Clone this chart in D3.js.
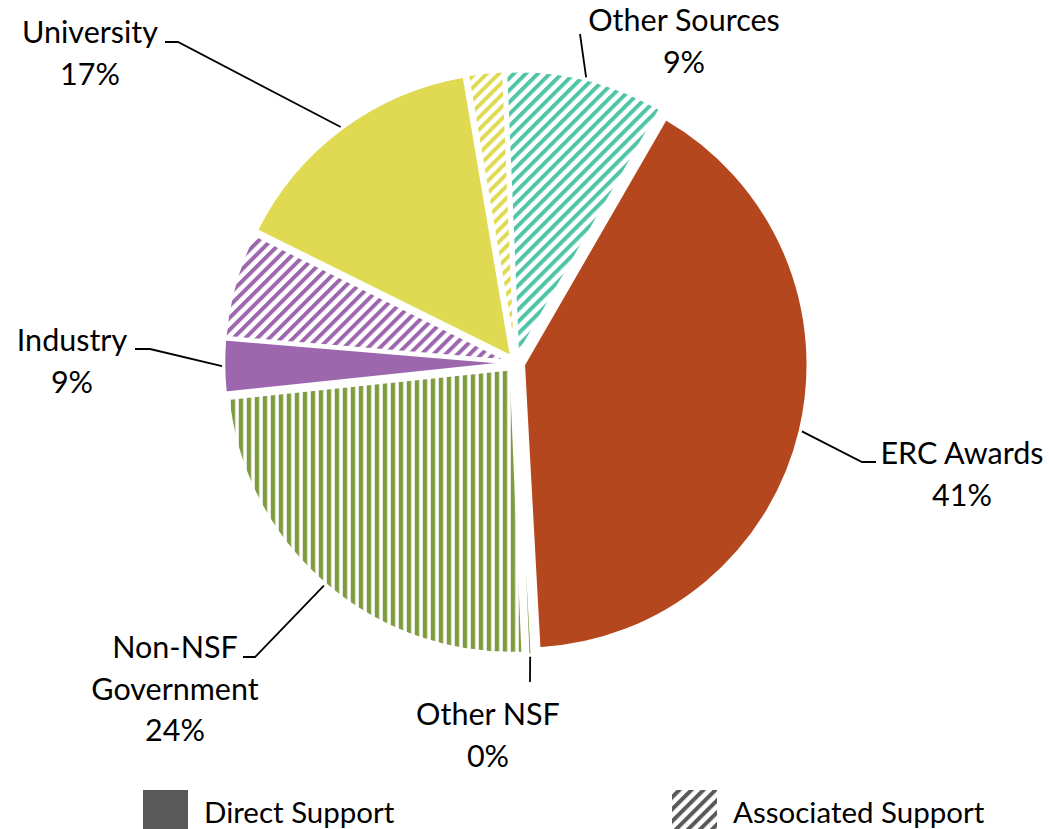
<!DOCTYPE html>
<html>
<head>
<meta charset="utf-8">
<script src="https://cdn.jsdelivr.net/npm/d3@7"></script>
<style>
  html, body { margin: 0; padding: 0; background: #fff; }
  svg { display: block; }
  text { font-family: Lato, "Open Sans", sans-serif; fill: #000; }
</style>
</head>
<body>
<svg id="chart" width="1049" height="829"></svg>
<script>
// Funding sources (percent of total support)
const categories = ["ERC Awards", "Other NSF", "Non-NSF Government", "Industry", "University", "Other Sources"];
const directSupport = [40.8, 0.2, 0, 3, 15, 0];
const associatedSupport = [0, 0, 24, 6, 2, 9];
const categoryColors = ["#B5471F", "#7E9B3E", "#7E9B3E", "#9D67AD", "#E0DA52", "#4FC4A6"];
const supportTypes = ["Direct Support", "Associated Support"];

// Label placement (label text centre, first baseline, and leader elbow)
const labelLayout = [
  { x: 962, y: 464, anchor: [876, 462], elbow: [862, 462], lines: ["ERC Awards"] },
  { x: 488, y: 725, anchor: [530, 682], elbow: [530, 682], lines: ["Other NSF"] },
  { x: 175, y: 658, anchor: [243, 657], elbow: [255, 657], lines: ["Non-NSF", "Government"] },
  { x: 72,  y: 351, anchor: [135, 349], elbow: [150, 349], lines: ["Industry"] },
  { x: 90,  y: 43,  anchor: [165, 42],  elbow: [178, 42],  lines: ["University"] },
  { x: 684, y: 31,  anchor: [580, 34],  elbow: [580, 34],  lines: ["Other Sources"] }
];

const svg = d3.select("#chart");
const cx = 516, cy = 363, radius = 284, explode = 8;
const lineHeight = 41.5;

// Pattern definitions for associated (hatched) support
const defs = svg.append("defs");
function diagPattern(id, color) {
  const p = defs.append("pattern")
    .attr("id", id).attr("patternUnits", "userSpaceOnUse")
    .attr("width", 8.5).attr("height", 8.5)
    .attr("patternTransform", "rotate(45)");
  p.append("rect").attr("x", 0).attr("y", 0).attr("width", 4).attr("height", 8.5).attr("fill", color);
}
function vertPattern(id, color) {
  const p = defs.append("pattern")
    .attr("id", id).attr("patternUnits", "userSpaceOnUse")
    .attr("width", 8).attr("height", 8);
  p.append("rect").attr("x", 0).attr("y", 0).attr("width", 4.4).attr("height", 8).attr("fill", color);
}

// Build slice list: for each category, direct then associated
const slices = [];
categories.forEach((c, i) => {
  slices.push({ cat: i, type: 0, value: directSupport[i] });
  slices.push({ cat: i, type: 1, value: associatedSupport[i] });
});

const total = d3.sum(slices, d => d.value);

categories.forEach((c, i) => {
  const id = "hatch" + i;
  if (c === "Non-NSF Government" || c === "Other NSF") vertPattern(id, categoryColors[i]);
  else diagPattern(id, categoryColors[i]);
});
diagPattern("hatchLegend", "#595959");

const pie = d3.pie()
  .value(d => d.value)
  .sort(null)
  .startAngle(Math.PI / 6)
  .endAngle(Math.PI / 6 + 2 * Math.PI);

const arcs = pie(slices);
const arc = d3.arc().innerRadius(0).outerRadius(radius);

const g = svg.append("g").attr("transform", `translate(${cx},${cy})`);

function offsetOf(a) {
  const mid = (a.startAngle + a.endAngle) / 2;
  return [Math.sin(mid) * explode, -Math.cos(mid) * explode];
}

g.selectAll("path.slice")
  .data(arcs.filter(a => a.data.value > 0))
  .join("path")
  .attr("class", "slice")
  .attr("transform", a => { const o = offsetOf(a); return `translate(${o[0]},${o[1]})`; })
  .attr("d", arc)
  .attr("fill", a => a.data.type === 0 ? categoryColors[a.data.cat] : `url(#hatch${a.data.cat})`)
  .attr("stroke", "#fff")
  .attr("stroke-width", 2.5)
  .attr("stroke-linejoin", "round");

// Labels with leader lines
categories.forEach((c, i) => {
  const parts = arcs.filter(a => a.data.cat === i);
  const target = parts[0].data.value > 0 ? parts[0] : parts[1];
  const mid = (target.startAngle + target.endAngle) / 2;
  const o = offsetOf(target);
  const r = radius + 2;
  const px = cx + o[0] + Math.sin(mid) * r;
  const py = cy + o[1] - Math.cos(mid) * r;
  const L = labelLayout[i];
  const pct = Math.round((directSupport[i] + associatedSupport[i]) / total * 100) + "%";

  svg.append("path")
    .attr("d", d3.line()([L.anchor, L.elbow, [px, py]]))
    .attr("fill", "none")
    .attr("stroke", "#000")
    .attr("stroke-width", 1.8);

  const lines = L.lines.concat([pct]);
  const t = svg.append("text")
    .attr("text-anchor", "middle")
    .style("font-size", "30.5px");
  lines.forEach((s, k) => {
    t.append("tspan").attr("x", L.x).attr("y", L.y + k * lineHeight).text(s);
  });
});

// Legend
const legend = svg.append("g");
const legendItems = [
  { x: 143, fill: "#595959" },
  { x: 672, fill: "url(#hatchLegend)" }
];
legendItems.forEach((it, k) => {
  legend.append("rect").attr("x", it.x).attr("y", 790).attr("width", 45).attr("height", 45).attr("fill", it.fill);
  legend.append("text").attr("x", it.x + 61).attr("y", 823)
    .style("font-size", "29.5px").text(supportTypes[k]);
});
</script>
</body>
</html>
